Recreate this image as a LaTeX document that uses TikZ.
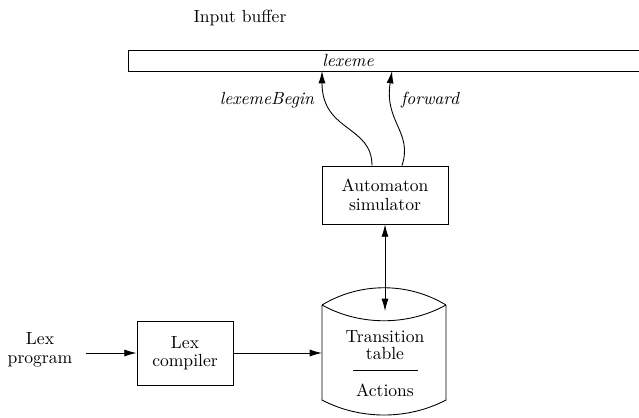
\documentclass[tikz,border=0pt]{standalone}
\usetikzlibrary{arrows.meta,calc}
\begin{document}
\begin{tikzpicture}[x=0.02cm, y=-0.02cm, line width=0.5pt,
    every node/.style={font=\fontsize{10}{10.5}\selectfont, align=center},
    box/.style={draw, inner sep=0pt},
    arr/.style={-{Latex[length=7pt,width=4pt]}},
    darr/.style={{Latex[length=7pt,width=4pt]}-{Latex[length=7pt,width=4pt]}}]
                      \useasboundingbox (0,0) rectangle (639,417);
                      \clip (0,0) rectangle (639,417);

                      % input buffer
                      \node (inp) at (240,18) {Input buffer};
                      \draw (128,50) rectangle (650,71);
                      \node (lex) at (348,60) {\itshape lexeme};
                      \coordinate (lbtip) at (322,71);
                      \coordinate (fwtip) at (392,71);

                      % automaton and the two pointers
                      \node[box, minimum width=2.52cm, minimum height=1.16cm] (sim) at (385,195) {Automaton\\simulator};
                      \coordinate (lbfoot) at ($(sim.north)+(-13,0)$);
                      \coordinate (fwfoot) at ($(sim.north)+(17,0)$);
                      \draw[arr] (lbfoot) .. controls (372,125) and (322,132) .. (lbtip);
                      \draw[arr] (fwfoot) .. controls (413,132) and (384,122) .. (fwtip);
                      \node (lbl) at (267,100) {\itshape lexemeBegin};
                      \node (fwl) at (430,100) {\itshape forward};

                      % transition table drum
                      \edef \drl {322};
                      \edef \drr {446};
                      \draw (\drl,305) .. controls (360,282) and (408,282) .. (\drr,305);
                      \draw (\drl,305) .. controls (360,326) and (408,326) .. (\drr,305);
                      \draw (\drl,305) -- (\drl,400) .. controls (360,420) and (408,420) .. (\drr,400) -- (\drr,305);
                      \node (tt) at (385,345) {Transition\\[-1pt]table};
                      \draw ($(tt.south)+(-32,5)$) -- ($(tt.south)+(33,5)$);
                      \node (act) at (385,390) {Actions};
                      \coordinate (cyltop) at (385,311);
                      \coordinate (cylin) at (\drl,353);
                      \draw[darr] (sim.south) -- (cyltop);

                      % lex side
                      \node (prog) at (40,350) {Lex\\program};
                      \node[box, minimum width=1.92cm, minimum height=1.28cm] (comp) at (185,353) {Lex\\compiler};
                      \draw[arr] ($(prog.east)+(7,3)$) -- (comp.west);
                      \draw[arr] (comp.east) -- (cylin);
                  \end{tikzpicture}
\end{document}
